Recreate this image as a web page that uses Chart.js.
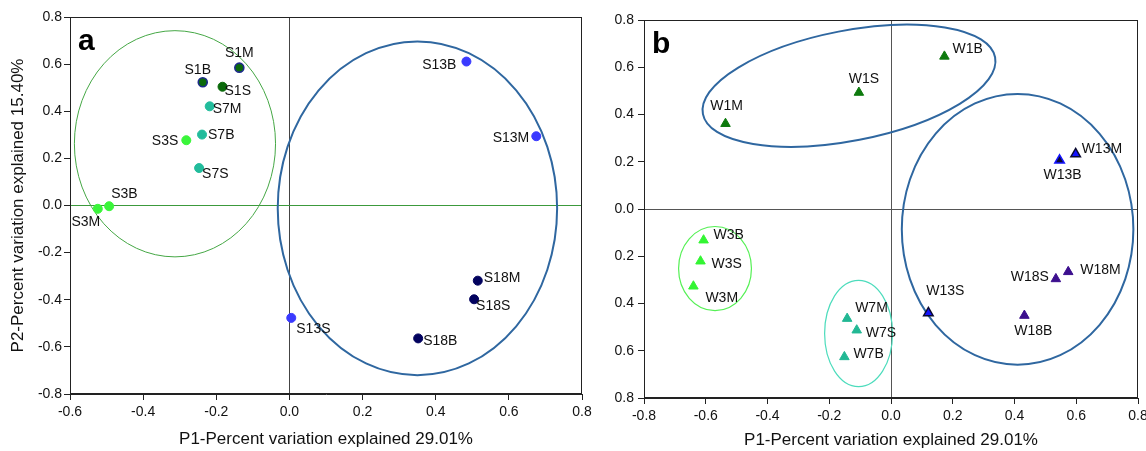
<!DOCTYPE html>
<html>
<head>
<meta charset="utf-8">
<script src="https://cdn.jsdelivr.net/npm/chart.js@4.4.1/dist/chart.umd.min.js"></script>
<style>
  html, body { margin: 0; padding: 0; background: #fff; }
  .wrap { position: relative; width: 1146px; height: 451px; }
  #chart-a { position: absolute; left: 0; top: 0; }
  #chart-b { position: absolute; left: 600px; top: 0; }
</style>
</head>
<body>
<div class="wrap">
  <canvas id="chart-a" width="600" height="451"></canvas>
  <canvas id="chart-b" width="546" height="451"></canvas>
</div>
<script>
// Panel a - S samples
const namesS1 = ["S1M", "S1B", "S1S"];
const xS1 = [-0.137, -0.237, -0.183];
const yS1 = [0.585, 0.523, 0.504];

const namesS3 = ["S3S", "S3B", "S3M"];
const xS3 = [-0.282, -0.493, -0.524];
const yS3 = [0.277, -0.003, -0.014];

const namesS7 = ["S7M", "S7B", "S7S"];
const xS7 = [-0.218, -0.239, -0.247];
const yS7 = [0.421, 0.301, 0.159];

const namesS13 = ["S13B", "S13M", "S13S"];
const xS13 = [0.484, 0.675, 0.005];
const yS13 = [0.611, 0.294, -0.477];

const namesS18 = ["S18M", "S18S", "S18B"];
const xS18 = [0.515, 0.505, 0.352];
const yS18 = [-0.319, -0.398, -0.564];

// Panel b - W samples
const namesW1 = ["W1B", "W1S", "W1M"];
const xW1 = [0.173, -0.104, -0.536];
const yW1 = [0.646, 0.493, 0.361];

const namesW3 = ["W3B", "W3S", "W3M"];
const xW3 = [-0.607, -0.617, -0.64];
const yW3 = [-0.132, -0.221, -0.327];

const namesW7 = ["W7M", "W7S", "W7B"];
const xW7 = [-0.142, -0.111, -0.151];
const yW7 = [-0.464, -0.513, -0.626];

const namesW13 = ["W13M", "W13B", "W13S"];
const xW13 = [0.598, 0.546, 0.121];
const yW13 = [0.233, 0.206, -0.44];

const namesW18 = ["W18S", "W18M", "W18B"];
const xW18 = [0.534, 0.574, 0.432];
const yW18 = [-0.296, -0.266, -0.451];

// Group ellipses: centre x, centre y, radius x, radius y (data units), tilt in degrees
const ellipseS1S3S7 = [-0.313, 0.262, 0.275, 0.48, 0];
const ellipseS13S18 = [0.35, -0.012, 0.382, 0.708, 0];
const ellipseW1 = [-0.136, 0.522, 0.482, 0.233, 11];
const ellipseW13W18 = [0.41, -0.086, 0.375, 0.573, 0];
const ellipseW3 = [-0.57, -0.252, 0.118, 0.178, 0];
const ellipseW7 = [-0.105, -0.527, 0.11, 0.225, 0];

// Tick labels
const xTicksA = ["-0.6", "-0.4", "-0.2", "0.0", "0.2", "0.4", "0.6", "0.8"];
const yTicksA = ["-0.8", "-0.6", "-0.4", "-0.2", "0.0", "0.2", "0.4", "0.6", "0.8"];
const xTicksB = ["-0.8", "-0.6", "-0.4", "-0.2", "0.0", "0.2", "0.4", "0.6", "0.8"];
const yTicksB = ["0.8", "0.6", "0.4", "0.2", "0.0", "0.2", "0.4", "0.6", "0.8"];

const xTitle = "P1-Percent variation explained 29.01%";
const yTitleA = "P2-Percent variation explained 15.40%";

// Label placement next to each point: [dx, dy, align]
const labelPosS1 = [[0, -15, "center"], [-5, -12, "center"], [2, 4, "left"]];
const labelPosS3 = [[-8, 1, "right"], [2, -12, "left"], [-12, 13, "center"]];
const labelPosS7 = [[3, 3, "left"], [6, 1, "left"], [3, 6, "left"]];
const labelPosS13 = [[-10, 4, "right"], [-7, 2, "right"], [5, 11, "left"]];
const labelPosS18 = [[6, -3, "left"], [2, 7, "left"], [5, 3, "left"]];

const labelPosW1 = [[8, -7, "left"], [5, -13, "center"], [1, -18, "center"]];
const labelPosW3 = [[10, -5, "left"], [11, 3, "left"], [12, 12, "left"]];
const labelPosW7 = [[8, -10, "left"], [9, 3, "left"], [9, -3, "left"]];
const labelPosW13 = [[6, -5, "left"], [3, 15, "center"], [17, -22, "center"]];
const labelPosW18 = [[-7, -2, "right"], [12, -2, "left"], [9, 16, "center"]];

const FONT = "'Liberation Sans', Arial, sans-serif";

const makeSet = (names, xs, ys, labelPos, style) => ({
  data: xs.map((x, i) => ({ x: x, y: ys[i] })),
  names: names,
  labelPos: labelPos,
  pointStyle: style.shape || "circle",
  pointRadius: style.radius || 4.5,
  pointHoverRadius: style.radius || 4.5,
  backgroundColor: style.fill,
  borderColor: style.border || style.fill,
  pointBorderWidth: style.borderWidth || 1,
  showLine: false,
});

const ellipsePlugin = (list) => ({
  id: "ellipses",
  beforeDatasetsDraw(chart) {
    const { ctx, scales } = chart;
    list.forEach((item) => {
      const [ex, ey, erx, ery, tilt] = item.shape;
      const cx = scales.x.getPixelForValue(ex);
      const cy = scales.y.getPixelForValue(ey);
      const rx = Math.abs(scales.x.getPixelForValue(ex + erx) - cx);
      const ry = Math.abs(scales.y.getPixelForValue(ey + ery) - cy);
      ctx.save();
      ctx.beginPath();
      ctx.ellipse(cx, cy, rx, ry, (-tilt * Math.PI) / 180, 0, Math.PI * 2);
      ctx.strokeStyle = item.color;
      ctx.lineWidth = item.width;
      ctx.stroke();
      ctx.restore();
    });
  },
});

const labelPlugin = {
  id: "pointLabels",
  afterDatasetsDraw(chart) {
    const ctx = chart.ctx;
    ctx.save();
    ctx.font = "14px " + FONT;
    ctx.fillStyle = "#111";
    ctx.textBaseline = "middle";
    chart.data.datasets.forEach((ds, i) => {
      const meta = chart.getDatasetMeta(i);
      meta.data.forEach((pt, j) => {
        const [dx, dy, align] = ds.labelPos[j];
        ctx.textAlign = align;
        ctx.fillText(ds.names[j], pt.x + dx, pt.y + dy);
      });
    });
    ctx.restore();
  },
};

const framePlugin = (letter) => ({
  id: "frame",
  afterDraw(chart) {
    const { ctx, chartArea } = chart;
    ctx.save();
    ctx.strokeStyle = "#222";
    ctx.lineWidth = 1;
    ctx.strokeRect(
      Math.round(chartArea.left) + 0.5,
      Math.round(chartArea.top) + 0.5,
      Math.round(chartArea.right - chartArea.left) - 1,
      Math.round(chartArea.bottom - chartArea.top) - 1
    );
    ctx.font = "bold 30px " + FONT;
    ctx.fillStyle = "#000";
    ctx.textAlign = "left";
    ctx.textBaseline = "alphabetic";
    ctx.fillText(letter, chartArea.left + 8, chartArea.top + 33);
    ctx.restore();
  },
});

const isZero = (v) => Math.abs(v) < 1e-9;

const buildScales = (p) => ({
  x: {
    type: "linear",
    min: p.xMin,
    max: 0.8,
    afterBuildTicks: (scale) => {
      scale.ticks = p.xTicks.map((t) => ({ value: parseFloat(t) }));
    },
    afterFit: (scale) => {
      scale.height = p.xHeight;
      scale.paddingLeft = 0;
      scale.paddingRight = 0;
    },
    ticks: {
      autoSkip: false,
      maxRotation: 0,
      padding: 4,
      color: "#111",
      font: { family: FONT, size: 14 },
      callback: (v, i) => p.xTicks[i],
    },
    grid: {
      color: (c) => (isZero(c.tick.value) ? p.vZero : "rgba(0,0,0,0)"),
      tickColor: "#222",
      tickLength: 6,
    },
    border: { display: true, color: "#222" },
    title: {
      display: true,
      text: xTitle,
      color: "#111",
      font: { family: FONT, size: 17 },
      padding: { top: 0, bottom: p.xTitlePad },
    },
  },
  y: {
    type: "linear",
    min: -0.8,
    max: 0.8,
    afterBuildTicks: (scale) => {
      scale.ticks = p.yValues.map((v) => ({ value: v }));
    },
    afterFit: (scale) => {
      scale.width = p.yWidth;
      scale.paddingTop = 0;
      scale.paddingBottom = 0;
    },
    ticks: {
      autoSkip: false,
      padding: p.yTickPad,
      color: "#111",
      font: { family: FONT, size: 14 },
      callback: (v, i) => p.yTicks[i],
    },
    grid: {
      color: (c) => (isZero(c.tick.value) ? p.hZero : "rgba(0,0,0,0)"),
      tickColor: "#222",
      tickLength: 6,
    },
    border: { display: true, color: "#222" },
    title: {
      display: !!p.yTitle,
      text: p.yTitle || "",
      color: "#111",
      font: { family: FONT, size: 17 },
      padding: { top: 8, bottom: 0 },
    },
  },
});

const yValues = yTicksA.map((t) => parseFloat(t));

// Chart a
const chartA = document.querySelector("#chart-a");
if (chartA) {
  new Chart(chartA, {
    type: "scatter",
    data: {
      datasets: [
        makeSet(namesS13, xS13, yS13, labelPosS13, { fill: "#3a3aff" }),
        makeSet(namesS18, xS18, yS18, labelPosS18, { fill: "#02025e" }),
        makeSet(namesS7, xS7, yS7, labelPosS7, { fill: "#22bc9c" }),
        makeSet(namesS3, xS3, yS3, labelPosS3, { fill: "#3af53a" }),
        makeSet(namesS1, xS1, yS1, labelPosS1, {
          fill: "#0b6a0b",
          border: ["#1c2a8a", "#1c2a8a", "#0b6a0b"],
          borderWidth: [1.6, 1.6, 1],
        }),
      ],
    },
    options: {
      responsive: false,
      animation: false,
      devicePixelRatio: 1,
      layout: { padding: { top: 17, right: 18, left: 0, bottom: 0 } },
      plugins: { legend: { display: false }, tooltip: { enabled: false } },
      scales: buildScales({
        xMin: -0.6,
        xTicks: xTicksA,
        yTicks: yTicksA,
        yValues: yValues,
        xHeight: 57,
        yWidth: 70,
        yTickPad: 2,
        xTitlePad: 1,
        yTitle: yTitleA,
        vZero: "#444",
        hZero: "#3c9a3c",
      }),
    },
    plugins: [
      ellipsePlugin([
        { shape: ellipseS1S3S7, color: "#45a745", width: 1 },
        { shape: ellipseS13S18, color: "#2f67a0", width: 2 },
      ]),
      labelPlugin,
      framePlugin("a"),
    ],
  });
}

// Chart b
const chartB = document.querySelector("#chart-b");
if (chartB) {
  new Chart(chartB, {
    type: "scatter",
    data: {
      datasets: [
        makeSet(namesW1, xW1, yW1, labelPosW1, { shape: "triangle", radius: 5.5, fill: "#0d7a0d" }),
        makeSet(namesW3, xW3, yW3, labelPosW3, { shape: "triangle", radius: 5.5, fill: "#33f533" }),
        makeSet(namesW7, xW7, yW7, labelPosW7, { shape: "triangle", radius: 5.5, fill: "#22b894" }),
        makeSet(namesW13, xW13, yW13, labelPosW13, {
          shape: "triangle",
          radius: 5.5,
          fill: ["#1414ff", "#0a0a30", "#1414ff"],
          border: ["#0a0a30", "#1414ff", "#0a0a30"],
          borderWidth: 1.5,
        }),
        makeSet(namesW18, xW18, yW18, labelPosW18, { shape: "triangle", radius: 5.5, fill: "#3c0f8e" }),
      ],
    },
    options: {
      responsive: false,
      animation: false,
      devicePixelRatio: 1,
      layout: { padding: { top: 20, right: 8, left: 0, bottom: 0 } },
      plugins: { legend: { display: false }, tooltip: { enabled: false } },
      scales: buildScales({
        xMin: -0.8,
        xTicks: xTicksB,
        yTicks: yTicksB,
        yValues: yValues,
        xHeight: 53,
        yWidth: 44,
        yTickPad: 4,
        xTitlePad: 0,
        yTitle: "",
        vZero: "#555",
        hZero: "#555",
      }),
    },
    plugins: [
      ellipsePlugin([
        { shape: ellipseW1, color: "#2f67a0", width: 2 },
        { shape: ellipseW13W18, color: "#2f67a0", width: 2 },
        { shape: ellipseW3, color: "#55f055", width: 1.2 },
        { shape: ellipseW7, color: "#4cdcbc", width: 1.2 },
      ]),
      labelPlugin,
      framePlugin("b"),
    ],
  });
}
</script>
</body>
</html>
